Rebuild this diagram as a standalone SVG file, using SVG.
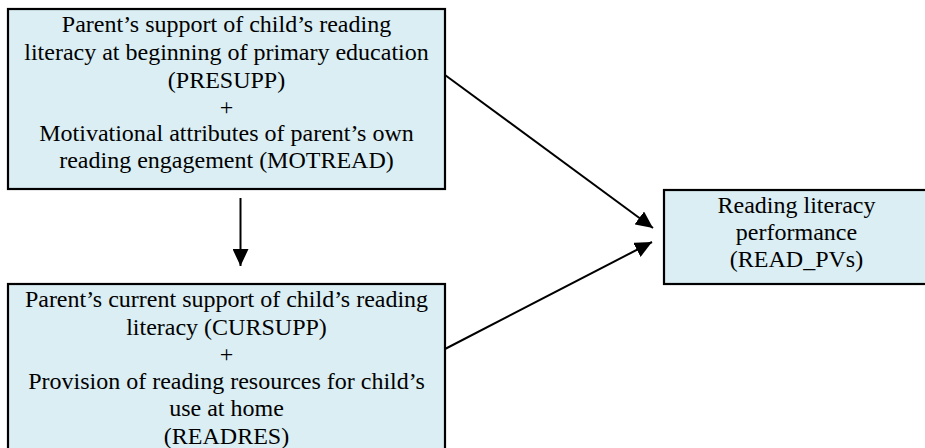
<svg xmlns="http://www.w3.org/2000/svg" width="925" height="448" viewBox="0 0 925 448">
<style>
.box{fill:#DAEEF3;stroke:#000;stroke-width:2.2}
.t{font-family:'Liberation Serif','DejaVu Serif',serif;font-size:24px;fill:#000;text-anchor:middle}
.c{stroke:#000;stroke-width:2;fill:none}
</style>
<defs>
<marker id="ah" viewBox="0 0 17 16" refX="17" refY="8" markerWidth="17" markerHeight="16" markerUnits="userSpaceOnUse" orient="auto">
<path d="M0,0 L17,8 L0,16 Z" fill="#000"/>
</marker>
</defs>
<rect width="925" height="448" fill="#fff"/>
<g id="presupp">
<rect class="box" x="8" y="9" width="437" height="180"/>
<text class="t" x="226.5" y="32">Parent’s support of child’s reading</text>
<text class="t" x="226.5" y="60">literacy at beginning of primary education</text>
<text class="t" x="226.5" y="88">(PRESUPP)</text>
<text class="t" x="226.5" y="115">+</text>
<text class="t" x="226.5" y="141">Motivational attributes of parent’s own</text>
<text class="t" x="226.5" y="168">reading engagement (MOTREAD)</text>
</g>
<g id="cursupp">
<rect class="box" x="8" y="284" width="437" height="180"/>
<text class="t" x="226.5" y="307">Parent’s current support of child’s reading</text>
<text class="t" x="226.5" y="335">literacy (CURSUPP)</text>
<text class="t" x="226.5" y="362">+</text>
<text class="t" x="226.5" y="389">Provision of reading resources for child’s</text>
<text class="t" x="226.5" y="416">use at home</text>
<text class="t" x="226.5" y="444">(READRES)</text>
</g>
<g id="readpvs">
<rect class="box" x="664" y="190" width="280" height="94"/>
<text class="t" x="796.5" y="213">Reading literacy</text>
<text class="t" x="796.5" y="240">performance</text>
<text class="t" x="796.5" y="267">(READ_PVs)</text>
</g>
<g id="connectors">
<line class="c" x1="240.5" y1="198" x2="240.5" y2="266" marker-end="url(#ah)"/>
<line class="c" x1="445" y1="75" x2="653" y2="228" marker-end="url(#ah)"/>
<line class="c" x1="445" y1="349" x2="652" y2="242" marker-end="url(#ah)"/>
</g>
</svg>
